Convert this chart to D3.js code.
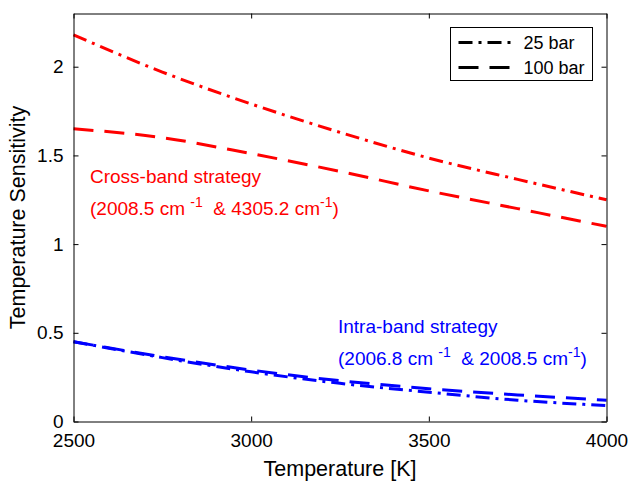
<!DOCTYPE html>
<html>
<head>
<meta charset="utf-8">
<script src="https://cdn.jsdelivr.net/npm/d3@7"></script>
<style>
  body { margin: 0; background: #fff; }
  svg { font-family: "Liberation Sans", Arial, sans-serif; }
</style>
</head>
<body>
<svg width="630" height="481"></svg>
<script>
const temps = [2500, 2750, 3000, 3250, 3500, 3750, 4000]
const cross25 = [2.18, 1.97, 1.79, 1.63, 1.485, 1.365, 1.25]
const cross100 = [1.65, 1.60, 1.51, 1.41, 1.30, 1.20, 1.10]
const intra25 = [0.45, 0.36, 0.28, 0.215, 0.165, 0.12, 0.09]
const intra100 = [0.45, 0.365, 0.29, 0.23, 0.185, 0.15, 0.12]
const xTicks = [2500, 3000, 3500, 4000]
const yTicks = [0, 0.5, 1, 1.5, 2]

const svg = d3.select('svg')
const width = +svg.attr('width')
const height = +svg.attr('height')
const margin = {left: 73.5, right: 23.5, top: 13.5, bottom: 59.5}
const innerWidth = width - margin.left - margin.right
const innerHeight = height - margin.top - margin.bottom

const xScale = d3.scaleLinear().domain([2500, 4000]).range([0, innerWidth])
const yScale = d3.scaleLinear().domain([0, 2.3]).range([innerHeight, 0])

const g = svg.append('g')
  .attr('transform', `translate(${margin.left}, ${margin.top})`)

const dashDot = '14,6,3,6'
const dashed = '20,11'

const line = d3.line()
  .x(d => xScale(d[0]))
  .y(d => yScale(d[1]))
  .curve(d3.curveMonotoneX)

const series = [
  {values: cross25, color: '#ff0000', dash: dashDot},
  {values: cross100, color: '#ff0000', dash: dashed},
  {values: intra100, color: '#0000ff', dash: dashed},
  {values: intra25, color: '#0000ff', dash: dashDot}
]

series.forEach(s => {
  g.append('path')
    .datum(temps.map((t, i) => [t, s.values[i]]))
    .attr('d', line)
    .attr('fill', 'none')
    .attr('stroke', s.color)
    .attr('stroke-width', 3)
    .attr('stroke-dasharray', s.dash)
})

// axes (ticks inside, mirrored on top and right)
const styleAxis = sel => {
  sel.selectAll('path').attr('stroke', '#000')
  sel.selectAll('line').attr('stroke', '#000')
  sel.selectAll('text').attr('fill', '#000').style('font-size', '19px')
}

g.append('g')
  .attr('transform', `translate(0, ${innerHeight})`)
  .call(d3.axisBottom(xScale).tickValues(xTicks).tickSizeInner(-5).tickSizeOuter(0).tickPadding(12).tickFormat(d3.format('d')))
  .call(styleAxis)

g.append('g')
  .call(d3.axisTop(xScale).tickValues(xTicks).tickSizeInner(-5).tickSizeOuter(0))
  .call(styleAxis)
  .selectAll('text').remove()

g.append('g')
  .call(d3.axisLeft(yScale).tickValues(yTicks).tickSizeInner(-5).tickSizeOuter(0).tickPadding(10).tickFormat(d3.format('')))
  .call(styleAxis)

g.append('g')
  .attr('transform', `translate(${innerWidth}, 0)`)
  .call(d3.axisRight(yScale).tickValues(yTicks).tickSizeInner(-5).tickSizeOuter(0))
  .call(styleAxis)
  .selectAll('text').remove()

g.selectAll('.domain').attr('stroke-width', 1)

// axis labels
svg.append('text')
  .attr('x', margin.left + innerWidth / 2)
  .attr('y', 476)
  .attr('text-anchor', 'middle')
  .style('font-size', '21.5px')
  .text('Temperature [K]')

svg.append('text')
  .attr('transform', `translate(25, ${margin.top + innerHeight / 2}) rotate(-90)`)
  .attr('text-anchor', 'middle')
  .style('font-size', '21.5px')
  .text('Temperature Sensitivity')

// annotations
const annotate = (x, y, color, title, a, b) => {
  svg.append('text')
    .attr('x', x).attr('y', y)
    .attr('fill', color)
    .style('font-size', '19px')
    .text(title)
  const t = svg.append('text')
    .attr('x', x).attr('y', y + 32)
    .attr('fill', color)
    .style('font-size', '19px')
    .attr('xml:space', 'preserve')
  t.append('tspan').text(`(${a} cm `)
  t.append('tspan').attr('dy', -8).style('font-size', '14px').text('-1')
  t.append('tspan').attr('dy', 8).text(`  & ${b} cm`)
  t.append('tspan').attr('dy', -8).style('font-size', '14px').text('-1')
  t.append('tspan').attr('dy', 8).text(')')
}

annotate(90, 183, '#ff0000', 'Cross-band strategy', '2008.5', '4305.2')
annotate(338, 333, '#0000ff', 'Intra-band strategy', '2006.8', '2008.5')

// legend
const legendItems = [
  {label: '25 bar', dash: dashDot},
  {label: '100 bar', dash: dashed}
]
const legend = svg.append('g').attr('transform', 'translate(450.5, 27.5)')
legend.append('rect')
  .attr('width', 142)
  .attr('height', 53)
  .attr('fill', '#fff')
  .attr('stroke', '#000')
  .attr('stroke-width', 1)

legend.selectAll('g.item')
  .data(legendItems)
  .enter()
  .append('g')
  .attr('class', 'item')
  .attr('transform', (d, i) => `translate(0, ${15 + i * 25})`)
  .each(function (d) {
    const item = d3.select(this)
    item.append('line')
      .attr('x1', 8).attr('x2', 66)
      .attr('stroke', '#000')
      .attr('stroke-width', 3)
      .attr('stroke-dasharray', d.dash)
    item.append('text')
      .attr('x', 73).attr('y', 6)
      .style('font-size', '18px')
      .text(d.label)
  })
</script>
</body>
</html>
